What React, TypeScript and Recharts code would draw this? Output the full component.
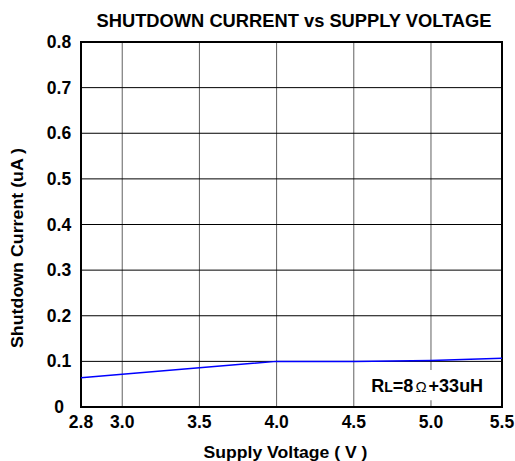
import React from 'react';
import { LineChart, Line, XAxis, YAxis, CartesianGrid, ReferenceArea, Customized } from 'recharts';

// Supply voltage positions (axis ends are labelled 2.8 and 5.5)
const xValues = [2.733, 3.0, 3.5, 4.0, 4.5, 5.0, 5.46];
const xTickLabels = ['2.8', '3.0', '3.5', '4.0', '4.5', '5.0', '5.5'];
// Shutdown current (uA)
const currentValues = [0.064, 0.072, 0.086, 0.1, 0.1, 0.102, 0.107];
const yTicks = [0, 0.1, 0.2, 0.3, 0.4, 0.5, 0.6, 0.7, 0.8];
const yTickLabels = ['0', '0.1', '0.2', '0.3', '0.4', '0.5', '0.6', '0.7', '0.8'];

const data = xValues.map((x, i) => ({ x, y: currentValues[i] }));
const xDomain: [number, number] = [xValues[0], xValues[xValues.length - 1]];

const FONT = "'Liberation Sans', Arial, Helvetica, sans-serif";

const XTick = (props: any) => {
  const { x, payload } = props;
  const idx = xValues.indexOf(payload.value);
  return (
    <text x={x} y={428} textAnchor="middle" fontFamily={FONT} fontWeight="bold" fontSize={17.5} fill="#000">
      {idx >= 0 ? xTickLabels[idx] : payload.value}
    </text>
  );
};

const YTick = (props: any) => {
  const { y, payload } = props;
  const idx = yTicks.indexOf(payload.value);
  return (
    <text x={59} y={y + 6} textAnchor="middle" fontFamily={FONT} fontWeight="bold" fontSize={17.5} fill="#000">
      {idx >= 0 ? yTickLabels[idx] : payload.value}
    </text>
  );
};

const Texts = () => (
  <g fontFamily={FONT} fontWeight="bold" fill="#000">
    <text x={96.5} y={27} fontSize={17.5} textLength={395} lengthAdjust="spacingAndGlyphs">SHUTDOWN CURRENT vs SUPPLY VOLTAGE</text>
    <text x={203.5} y={458} fontSize={16.5} textLength={164} lengthAdjust="spacingAndGlyphs">Supply Voltage ( V )</text>
    <text x={0} y={0} transform="translate(22.5,348) rotate(-90)" fontSize={16.5} textLength={200} lengthAdjust="spacingAndGlyphs">Shutdown Current (uA )</text>
  </g>
);

const AnnotationLabel = (props: any) => {
  const vb = props.viewBox || {};
  const cx = vb.x + vb.width / 2;
  const cy = vb.y + vb.height / 2;
  return (
    <text x={cx - 3} y={cy + 7} textAnchor="middle" fontFamily={FONT} fontWeight="bold" fontSize={18} fill="#000">
      <tspan>R</tspan>
      <tspan fontSize={14}>L</tspan>
      <tspan>=8</tspan>
      <tspan fontWeight="normal" fontSize={15} dx={2}>Ω</tspan>
      <tspan dx={2}>+33uH</tspan>
    </text>
  );
};

export default function App() {
  return (
    <div style={{ position: 'absolute', left: 0, top: 0, background: '#fff' }}>
      <LineChart width={515} height={461} data={data} margin={{ top: 42, right: 13, bottom: 0, left: 0 }}>
        <CartesianGrid horizontal={false} vertical={true} stroke="#606060" strokeWidth={1} />
        <CartesianGrid horizontal={true} vertical={false} stroke="#000" strokeWidth={1} />
        <XAxis
          dataKey="x"
          type="number"
          domain={xDomain}
          ticks={xValues}
          height={54}
          axisLine={false}
          tickLine={false}
          tick={<XTick />}
          interval={0}
          allowDataOverflow
        />
        <YAxis
          type="number"
          domain={[0, 0.8]}
          ticks={yTicks}
          width={81}
          axisLine={false}
          tickLine={false}
          tick={<YTick />}
          interval={0}
        />
        <ReferenceArea
          x1={4.54}
          x2={5.45}
          y1={0.015}
          y2={0.081}
          fill="#fff"
          fillOpacity={1}
          stroke="none"
          label={<AnnotationLabel />}
        />
        <Line
          type="linear"
          dataKey="y"
          stroke="#0000ff"
          strokeWidth={1.5}
          dot={false}
          isAnimationActive={false}
        />
        <ReferenceArea x1={xDomain[0]} x2={xDomain[1]} y1={0} y2={0.8} fill="none" stroke="#000" strokeWidth={2} />
        <Customized component={Texts} />
      </LineChart>
    </div>
  );
}
